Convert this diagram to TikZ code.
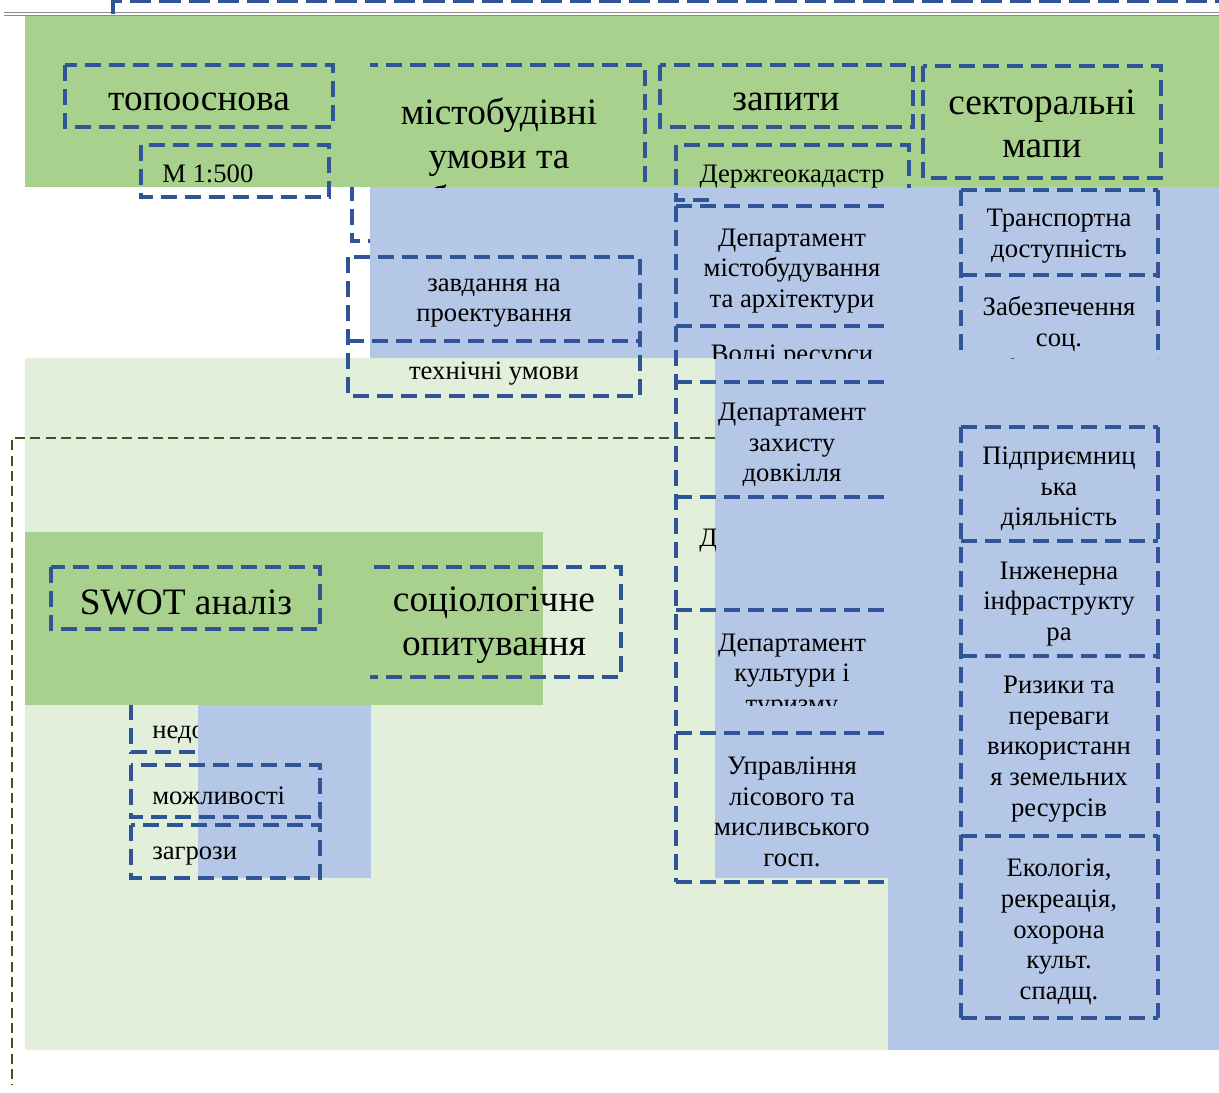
\documentclass[tikz,border=0pt]{standalone}
\usepackage{fontspec}
\setmainfont{Liberation Serif}
\definecolor{gdark}{HTML}{A9D18E}
\definecolor{gblue}{HTML}{B4C7E7}
\definecolor{glight}{HTML}{E2EFDA}
\definecolor{sblue}{HTML}{2F5597}
\definecolor{sgreen}{HTML}{385723}
\definecolor{sgray}{HTML}{8C8C8C}
\begin{document}
\begin{tikzpicture}[x=0.75pt,y=-0.75pt,
  dbx/.style={draw=sblue, line width=2.3pt, dash pattern=on 12pt off 6pt},
  bigtxt/.style={font=\fontsize{28}{32.5}\selectfont, align=center, inner sep=0pt},
  midtxt/.style={font=\fontsize{20}{23}\selectfont, align=center, inner sep=0pt},
  lefttxt/.style={font=\fontsize{20}{23}\selectfont, anchor=west, inner sep=0pt}]
\useasboundingbox (0,0) rectangle (1219,1092);
\fill[white] (0,0) rectangle (1219,1092);
% background panels
\fill[glight] (25,358) rectangle (888,1050);
\fill[gblue] (370,187) rectangle (1219,358);
\fill[gblue] (715,358) rectangle (1219,878);
\fill[gblue] (888,187) rectangle (1219,1050);
\fill[gdark] (25,16) rectangle (1219,187);
% header rules
\draw[sgray, line width=0.9pt] (4,12.3) -- (1219,12.3);
\draw[sgray, line width=0.9pt] (4,15.2) -- (1219,15.2);
\coordinate (tl0) at (113,14);
\coordinate (tl1) at (113,1.5);
\coordinate (tl2) at (1219,1.5);
\draw[sblue, line width=2.3pt, dash pattern=on 16pt off 6pt] (tl0) -- (tl1) -- (tl2);

% top row
\draw[dbx] (65,65) rectangle (333,127);
\node[bigtxt] (topo) at (199,102) {топооснова};
\draw[dbx] (141,145) rectangle (329,197);
\node[lefttxt] (m500) at (162,174) {М 1:500};

\begin{scope}
  \clip (370,55) rectangle (655,187);
  \draw[dbx] (352,65) rectangle (645,241);
  \node[bigtxt] (misto) at (499,155) {містобудівні\\умови та\\обмеження};
\end{scope}
\begin{scope}
  \clip (340,187) rectangle (370,250);
  \draw[dbx] (352,65) rectangle (645,241);
\end{scope}

\draw[dbx] (660,65) rectangle (913,127);
\node[bigtxt] (zapyty) at (786,102) {запити};
\draw[dbx] (923,66) rectangle (1161,178);
\node[bigtxt] (sekt) at (1042,124) {секторальні\\мапи};

\begin{scope}
  \clip (665,135) rectangle (920,187);
  \draw[dbx] (676,145) rectangle (909,200);
  \node[midtxt] (dgk) at (792,177) {Держгеокадастр};
\end{scope}
\begin{scope}
  \clip (665,187) rectangle (715,204);
  \draw[dbx] (676,145) rectangle (909,200);
\end{scope}

% middle column (requests): shared edges drawn once
\coordinate (mL0) at (676,206);
\coordinate (mL1) at (676,882);
\draw[dbx] (mL0) -- (mL1);
\foreach \yy in {206,326,382,497,610,733,882}{
  \draw[dbx] (676,\yy) -- (888,\yy);
}
\node[midtxt] (dma) at (792,271) {Департамент\\містобудування\\та архітектури};
\node[midtxt] (dzd) at (792,445) {Департамент\\захисту\\довкілля};
\node[midtxt] (ulm) at (792,812) {Управління\\лісового та\\мисливського\\госп.};
\begin{scope}
  \clip (660,320) rectangle (900,358);
  \node[midtxt] (vodni) at (792,357) {Водні ресурси};
\end{scope}
\begin{scope}
  \clip (660,500) rectangle (715,600);
  \node[lefttxt] (dep4) at (699,541) {Д};
\end{scope}
\begin{scope}
  \clip (660,612) rectangle (900,705);
  \node[midtxt] (dkt) at (792,676) {Департамент\\культури і\\туризму};
\end{scope}

% sectoral maps column: shared edges drawn once
\draw[dbx] (961,190) -- (961,358);
\draw[dbx] (1158,190) -- (1158,358);
\draw[dbx] (961,190) -- (1158,190);
\draw[dbx] (961,275) -- (1158,275);
\draw[dbx] (961,427) -- (961,1018);
\draw[dbx] (1158,427) -- (1158,1018);
\foreach \yy in {427,541,656,836,1018}{
  \draw[dbx] (961,\yy) -- (1158,\yy);
}
\node[midtxt] (trans) at (1059,236) {Транспортна\\доступність};
\begin{scope}
  \clip (950,270) rectangle (1170,358);
  \node[midtxt] (soc) at (1059,355) {Забезпечення\\соц.\\інфраструкту\\ри};
\end{scope}
\node[midtxt] (pidpr) at (1059,489) {Підприємниц\\ька\\діяльність};
\node[midtxt] (inzh) at (1059,604) {Інженерна\\інфраструкту\\ра};
\node[midtxt] (ryz) at (1059,749) {Ризики та\\переваги\\використанн\\я земельних\\ресурсів};
\node[midtxt] (eko) at (1059,932) {Екологія,\\рекреація,\\охорона\\культ.\\спадщ.};

% design task / technical conditions
\draw[dbx] (348,257) rectangle (640,396);
\draw[dbx] (348,341) -- (640,341);
\node[midtxt] (zavd) at (494,303) {завдання на\\проектування};
\node[midtxt] (tekh) at (494,374) {технічні умови};

% dark green dashed frame
\coordinate (ga) at (715,438);
\coordinate (gb) at (12,438);
\coordinate (gc) at (12,1085);
\draw[sgreen, line width=1.8pt, dash pattern=on 7.5pt off 4pt] (ga) -- (gb) -- (gc);

% SWOT block
\fill[gdark] (25,532) rectangle (543,705);
\draw[dbx] (51,567) rectangle (320,629);
\node[bigtxt] (swot) at (186,602) {SWOT аналіз};
\begin{scope}
  \clip (370,555) rectangle (630,690);
  \draw[dbx] (352,567) rectangle (621,677);
\end{scope}
\node[bigtxt] (socio) at (494,625) {соціологічне\\опитування};

\begin{scope}
  \clip (120,705) rectangle (198,760);
  \draw[dbx] (131,680) rectangle (320,752);
  \node[lefttxt] (nedo) at (152,732) {недоліки};
\end{scope}
\fill[gblue] (198,705) rectangle (371,878);
\draw[dbx] (131,765) rectangle (320,817);
\node[lefttxt] (mozh) at (152,796) {можливості};
\draw[dbx] (131,825) rectangle (320,878);
\node[lefttxt] (zagr) at (152,856) {загрози};
\end{tikzpicture}
\end{document}
